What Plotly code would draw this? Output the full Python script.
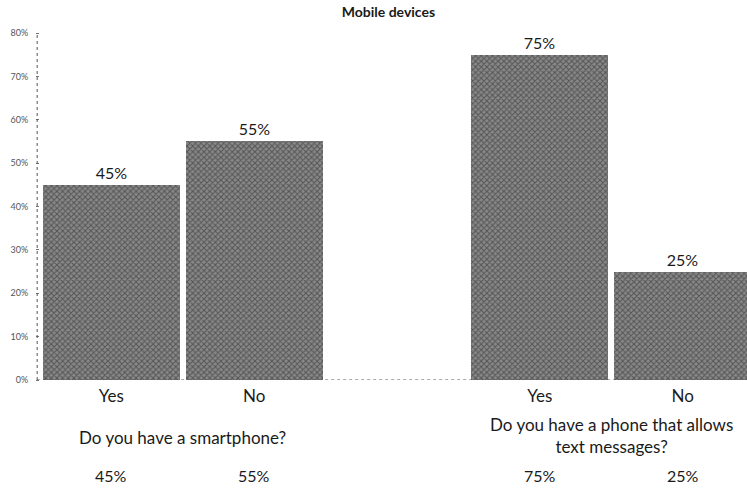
import plotly.graph_objects as go

# Survey answers, two questions with Yes/No shares
questions = ["Do you have a smartphone?", "Do you have a phone that allows<br>text messages?"]
answers = ["Yes", "No", "Yes", "No"]
shares = [0.45, 0.55, 0.75, 0.25]
# slot positions on the category axis (slot 2 is left empty between groups)
slots = [0, 1, 3, 4]
y_ticks = [0, 0.1, 0.2, 0.3, 0.4, 0.5, 0.6, 0.7, 0.8]

FONT = "Lato"
TXT = "#1a1a1a"

fig = go.Figure()
fig.add_trace(go.Bar(
    x=slots,
    y=shares,
    width=0.96,
    marker=dict(
        color="#727272",
        line=dict(width=0),
        pattern=dict(shape="x", fgcolor="#222222", bgcolor="#888888", size=4, solidity=0.45),
    ),
    text=[f"{v:.0%}" for v in shares],
    textposition="outside",
    textfont=dict(family=FONT, size=16, color=TXT),
    cliponaxis=False,
    hoverinfo="skip",
))

annotations = []
# group captions under each pair of bars
group_centers = [(slots[0] + slots[1]) / 2, (slots[2] + slots[3]) / 2]
group_y = [-0.165, -0.161]
for q, cx, gy in zip(questions, group_centers, group_y):
    annotations.append(dict(
        x=cx, y=gy, xref="x", yref="paper", text=q, showarrow=False,
        font=dict(family=FONT, size=17, color=TXT), yanchor="middle",
    ))
# value row at the bottom
for s, v in zip(slots, shares):
    annotations.append(dict(
        x=s, y=-0.276, xref="x", yref="paper", text=f"{v:.0%}", showarrow=False,
        font=dict(family=FONT, size=16, color=TXT), yanchor="middle",
    ))

shapes = [
    # dotted value axis and baseline
    dict(type="line", xref="paper", yref="y", x0=-0.004, x1=-0.004, y0=0, y1=0.8,
         line=dict(color="#555", width=1, dash="dot")),
    dict(type="line", xref="paper", yref="y", x0=-0.004, x1=1, y0=0, y1=0,
         line=dict(color="#555", width=1, dash="dot")),
]

fig.update_layout(
    width=747, height=494,
    margin=dict(l=40, r=0, t=33, b=114),
    paper_bgcolor="white", plot_bgcolor="white",
    showlegend=False,
    bargap=0,
    title=dict(text="<b>Mobile devices</b>", x=0.52, xanchor="center", y=0.975, yanchor="middle",
               font=dict(family=FONT, size=14, color=TXT)),
    xaxis=dict(
        range=[-0.5, 4.45], tickvals=slots, ticktext=answers, showgrid=False,
        zeroline=False, showline=False, ticks="",
        tickfont=dict(family=FONT, size=17, color=TXT), ticklabelstandoff=4,
    ),
    yaxis=dict(
        range=[0, 0.8], tickvals=y_ticks, tickformat=".0%", showgrid=False,
        zeroline=False, showline=False, ticks="outside", ticklen=3, tickcolor="#777",
        tickfont=dict(family=FONT, size=9, color="#555"), ticklabelstandoff=6,
    ),
    annotations=annotations,
    shapes=shapes,
)

fig.write_html("out.html")
